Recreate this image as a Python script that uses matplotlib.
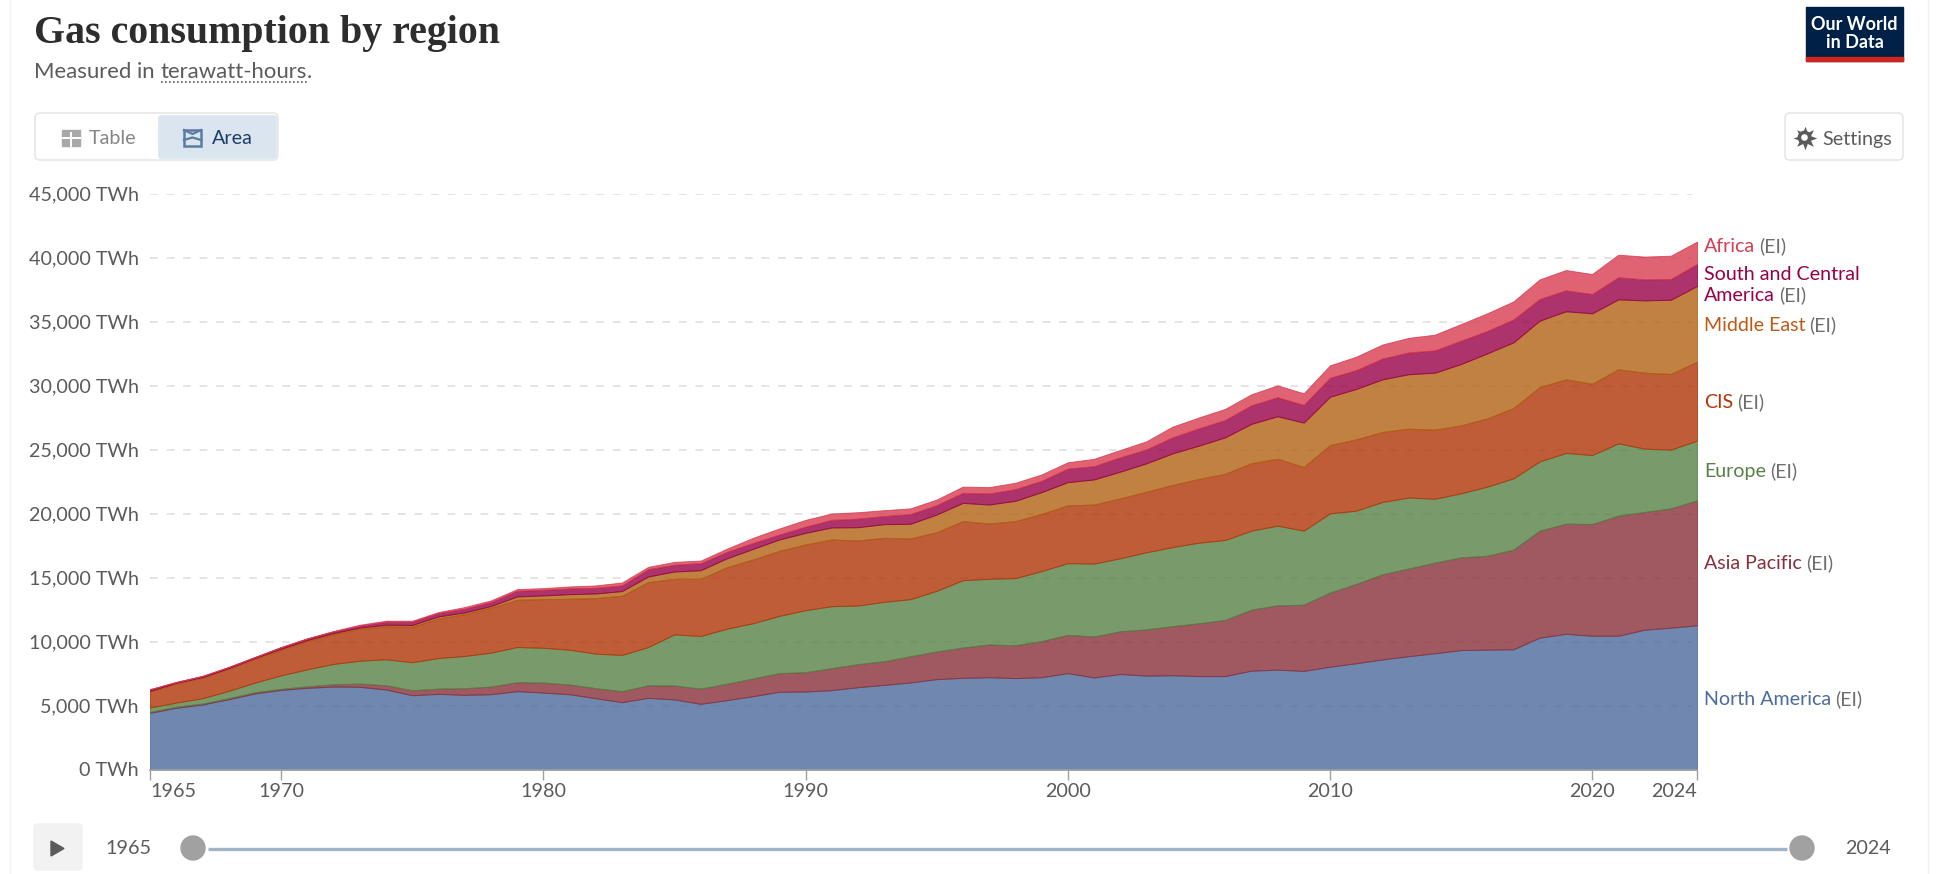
import matplotlib
matplotlib.use('Agg')
import matplotlib.pyplot as plt
from matplotlib.patches import FancyBboxPatch, Rectangle, Circle, Polygon

plt.rcParams['font.family'] = ['Lato', 'DejaVu Sans']

years = list(range(1965, 2025))

# TWh per region
north_america = [4430, 4820, 5080, 5490, 5940, 6220, 6380, 6480, 6460, 6250,
                 5800, 5910, 5830, 5880, 6120, 6010, 5880, 5570, 5260, 5600,
                 5470, 5130, 5420, 5730, 6070, 6090, 6200, 6430, 6610, 6800,
                 7060, 7160, 7210, 7140, 7210, 7530, 7190, 7460, 7330, 7360,
                 7300, 7300, 7720, 7800, 7700, 8030, 8300, 8600, 8850, 9080,
                 9330, 9360, 9390, 10300, 10600, 10450, 10450, 10920, 11080, 11260]
asia_pacific = [70, 80, 70, 80, 100, 80, 120, 180, 250, 330,
                390, 410, 520, 600, 700, 780, 760, 780, 860, 980,
                1090, 1190, 1280, 1380, 1460, 1510, 1720, 1800, 1850, 2050,
                2160, 2370, 2560, 2570, 2820, 2990, 3200, 3340, 3620, 3840,
                4120, 4380, 4770, 5020, 5180, 5790, 6200, 6650, 6850, 7080,
                7240, 7340, 7790, 8360, 8600, 8730, 9380, 9200, 9320, 9770]
europe = [340, 330, 420, 570, 750, 1060, 1330, 1590, 1790, 2030,
          2190, 2390, 2520, 2650, 2750, 2720, 2720, 2700, 2830, 2990,
          4000, 4110, 4300, 4320, 4470, 4850, 4840, 4580, 4640, 4460,
          4740, 5260, 5130, 5240, 5470, 5600, 5700, 5700, 6020, 6180,
          6300, 6250, 6170, 6230, 5780, 6190, 5720, 5650, 5550, 4990,
          5010, 5400, 5570, 5410, 5530, 5390, 5650, 4950, 4590, 4660]
cis = [1250, 1480, 1610, 1740, 1870, 2000, 2210, 2310, 2470, 2590,
       2780, 3090, 3270, 3510, 3690, 3800, 3980, 4340, 4620, 5070,
       4340, 4470, 4800, 4980, 5080, 5130, 5210, 5080, 5000, 4740,
       4580, 4610, 4320, 4450, 4470, 4510, 4610, 4680, 4730, 4850,
       4980, 5170, 5260, 5230, 4970, 5340, 5570, 5470, 5380, 5400,
       5310, 5330, 5490, 5810, 5750, 5570, 5780, 5930, 5910, 6170]
middle_east = [50, 60, 40, 40, 50, 80, 80, 100, 110, 110,
               130, 160, 130, 130, 260, 290, 360, 360, 370, 440,
               570, 670, 700, 830, 890, 910, 940, 1040, 1070, 1150,
               1380, 1430, 1480, 1590, 1700, 1820, 1960, 2090, 2220, 2470,
               2600, 2850, 3080, 3320, 3470, 3770, 3940, 4110, 4250, 4450,
               4790, 5080, 5130, 5190, 5320, 5500, 5470, 5650, 5800, 5910]
south_central = [120, 60, 80, 80, 70, 110, 110, 130, 150, 240,
                 260, 260, 290, 310, 440, 440, 440, 440, 440, 570,
                 530, 550, 500, 460, 380, 480, 590, 670, 630, 750,
                 730, 780, 860, 910, 880, 1050, 1040, 1120, 1080, 1250,
                 1350, 1350, 1450, 1480, 1380, 1480, 1470, 1620, 1700, 1740,
                 1820, 1750, 1780, 1690, 1630, 1510, 1720, 1640, 1620, 1720]
africa = [10, 10, 10, 10, 10, 20, 20, 30, 80, 70,
          70, 80, 130, 130, 130, 130, 160, 190, 230, 180,
          220, 200, 250, 400, 480, 530, 500, 500, 460, 450,
          440, 490, 500, 500, 500, 500, 570, 570, 640, 840,
          850, 870, 860, 930, 910, 970, 1050, 1100, 1140, 1230,
          1300, 1380, 1420, 1530, 1590, 1560, 1770, 1780, 1820, 1750]

series = [north_america, asia_pacific, europe, cis, middle_east, south_central, africa]
colors = ['#4C6A9C', '#883039', '#578145', '#B13507', '#B16214', '#970046', '#D73C50']

y_ticks = [0, 5000, 10000, 15000, 20000, 25000, 30000, 35000, 40000, 45000]
x_ticks = [1965, 1970, 1980, 1990, 2000, 2010, 2020, 2024]

W, H = 1960, 874
fig = plt.figure(figsize=(W / 100, H / 100), dpi=100)
GREY = '#5b5b5b'

# page layer, in pixels, for everything around the plot
page = fig.add_axes([0, 0, 1, 1])
page.set_xlim(0, W)
page.set_ylim(H, 0)
page.axis('off')

# plot
left, right, bottom, top = 150, 1697, 769.5, 193.5
ax = fig.add_axes([left / W, 1 - bottom / H, (right - left) / W, (bottom - top) / H])
ax.patch.set_alpha(0)
ax.set_xlim(1965, 2024)
ax.set_ylim(0, 45000)
for v in y_ticks[1:]:
    ax.plot([1965, 2023.8], [v, v], color='#e4e4e4', lw=1.4, dashes=(4, 4.5), zorder=1)
ax.stackplot(years, series, colors=colors, alpha=0.8, edgecolor='face', linewidth=0.7, zorder=2)
for s in ['top', 'left', 'right']:
    ax.spines[s].set_visible(False)
ax.spines['bottom'].set_color('#a0a0a0')
ax.spines['bottom'].set_linewidth(1.2)
ax.spines['bottom'].set_zorder(3)
ax.set_yticks(y_ticks)
ax.set_yticklabels([f'{v:,} TWh' for v in y_ticks])
ax.set_xticks(x_ticks)
ax.set_xticklabels([str(x) for x in x_ticks])
ax.tick_params(axis='y', length=0, pad=8, labelsize=14.2, labelcolor=GREY)
ax.tick_params(axis='x', length=7, width=1, color='#a0a0a0', pad=3, labelsize=14.2, labelcolor=GREY)
labs = ax.get_xticklabels()
labs[0].set_ha('left')
labs[-1].set_ha('right')

# header
page.text(34, 34, 'Gas consumption by region', family=['Liberation Serif', 'DejaVu Serif'],
          fontweight='bold', fontsize=28.7, color='#2d2d2d', va='center')
sub = page.text(34, 72.5, 'Measured in', fontsize=15.9, color=GREY, va='center')
fig.canvas.draw()
rend = fig.canvas.get_renderer()
sx = sub.get_window_extent(rend).x1 + 6
word = page.text(sx, 72.5, 'terawatt-hours', fontsize=15.9, color=GREY, va='center')
ex = word.get_window_extent(rend).x1
page.text(ex, 72.5, '.', fontsize=15.9, color=GREY, va='center')
page.plot([sx, ex], [82, 82], color=GREY, lw=1.2, dashes=(1, 1.4))

# logo
page.add_patch(Rectangle((1806, 7), 97, 54, color='#002147'))
page.add_patch(Rectangle((1806, 57), 97, 4, color='#CE261E'))
page.text(1854.5, 24.5, 'Our World', color='white', fontweight='bold', fontsize=13, ha='center', va='center')
page.text(1854.5, 42.5, 'in Data', color='white', fontweight='bold', fontsize=13, ha='center', va='center')


def button(x0, y0, x1, y1, face='white', edge='#e6e6e6', r=5):
    page.add_patch(FancyBboxPatch((x0 + r, y0 + r), x1 - x0 - 2 * r, y1 - y0 - 2 * r,
                                  boxstyle=f'round,pad={r},rounding_size={r}',
                                  fc=face, ec=edge, lw=1.2))


# tab buttons
button(35, 113, 278, 160)
button(159, 116, 276, 158, face='#DBE5F0', edge='#DBE5F0', r=2)
page.add_patch(Rectangle((62, 130), 18, 16, fc='#a8a8a8', ec='#a8a8a8', lw=1))
page.plot([62, 80], [138, 138], color='white', lw=1.4)
page.plot([71, 71], [133, 146], color='white', lw=1.4)
page.text(89, 139, 'Table', fontsize=14.2, color='#858585', va='center')
page.add_patch(Rectangle((184, 130), 17, 16, fc='none', ec='#5b7ba3', lw=1.8))
page.plot([184, 192.5, 201], [130, 134, 130], color='#5b7ba3', lw=1.6)
page.plot([184, 192.5, 201], [140, 137.5, 140], color='#5b7ba3', lw=1.6)
page.text(212, 139, 'Area', fontsize=14.2, color='#1D3D63', va='center')

button(1785, 113, 1903, 160)
# gear
page.plot([1804.5], [137.5], marker=(8, 1, 0), ms=17, color='#5b5b5b', mew=0)
page.add_patch(Circle((1804.5, 137.5), 6.2, color='#5b5b5b', zorder=3))
page.add_patch(Circle((1804.5, 137.5), 2.6, color='white', zorder=4))
page.text(1822, 139.5, 'Settings', fontsize=14.2, color=GREY, va='center')

# line labels
line_labels = [('Africa', 247, colors[6]),
               ('South and Central', 275, colors[5]),
               ('America', 296, colors[5]),
               ('Middle East', 326, '#BE5915'),
               ('CIS', 403, colors[3]),
               ('Europe', 472, colors[2]),
               ('Asia Pacific', 564, colors[1]),
               ('North America', 700, colors[0])]
for name, y, c in line_labels:
    t = page.text(1704, y + 5, name, fontsize=14.1, color=c, va='baseline')
    if name != 'South and Central':
        x1 = t.get_window_extent(rend).x1
        page.text(x1 + 4, y + 5, '(EI)', fontsize=14.1, color='#6e6e6e', va='baseline')

# timeline
button(34, 824, 82, 870, face='#f2f2f2', edge='#f2f2f2', r=4)
page.add_patch(Polygon([(51, 841), (51, 856), (64, 848.5)], color='#5b5b5b'))
page.text(128, 848, '1965', fontsize=14.2, color=GREY, ha='center', va='center')
page.text(1868, 848, '2024', fontsize=14.2, color=GREY, ha='center', va='center')
page.plot([208, 1787], [848.5, 848.5], color='#A0B4C8', lw=2.4, solid_capstyle='butt')
page.add_patch(Circle((193, 848), 12, color='#a1a1a1'))
page.add_patch(Circle((1802, 848), 12, color='#a1a1a1'))

# faint page borders
page.plot([10, 10], [0, H], color='#f2f2f2', lw=1)
page.plot([1928, 1928], [0, H], color='#f2f2f2', lw=1)

fig.savefig('out.png', dpi=100)
